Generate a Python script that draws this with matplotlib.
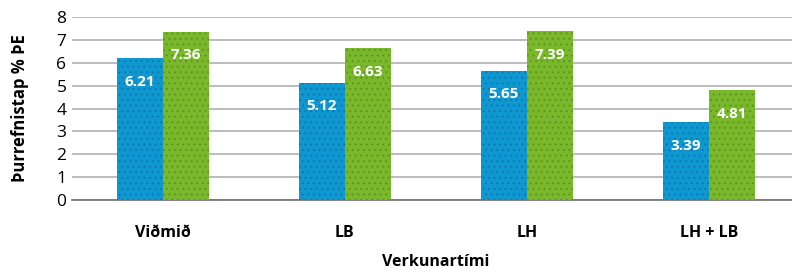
import numpy as np
import matplotlib.pyplot as plt

# values
categories = ['Viðmið', 'LB', 'LH', 'LH + LB']
series_a = [6.21, 5.12, 5.65, 3.39]
series_b = [7.36, 6.63, 7.39, 4.81]
yticks = [0, 1, 2, 3, 4, 5, 6, 7, 8]

plt.rcParams['font.family'] = ['Open Sans', 'DejaVu Sans']
plt.rcParams['hatch.linewidth'] = 0.8

fig = plt.figure(figsize=(7.92, 2.73), dpi=100)
ax = fig.add_axes([72 / 792, 0.267, 1 - 72 / 792 + 0.01, 0.938 - 0.267])

x = np.arange(len(categories))
w = 0.255
blue = '#0f97d1'
green = '#78b82a'

bars_a = ax.bar(x - w / 2, series_a, w, color=blue, hatch='...',
                edgecolor=(0, 0, 0, 0.15), linewidth=0, zorder=3)
bars_b = ax.bar(x + w / 2, series_b, w, color=green, hatch='...',
                edgecolor=(0, 0, 0, 0.15), linewidth=0, zorder=3)

for bars, vals in [(bars_a, series_a), (bars_b, series_b)]:
    for b, v in zip(bars, vals):
        ax.annotate(f'{v:.2f}', (b.get_x() + b.get_width() / 2, v),
                    xytext=(0, -17), textcoords='offset points',
                    ha='center', va='center', color='white',
                    fontsize=11, fontweight='bold', zorder=4)

ax.set_xlim(-0.5, 3.5)
ax.set_ylim(0, 8)
ax.set_yticks(yticks)
ax.set_xticks(x)
ax.set_xticklabels(categories, fontsize=11.5, fontweight='bold')
ax.tick_params(axis='x', length=0, pad=18)
ax.tick_params(axis='y', length=0, labelsize=12.5, pad=4)

ax.grid(axis='y', color='#b0b0b0', linewidth=1.2, zorder=0)
for s in ['top', 'right', 'left']:
    ax.spines[s].set_visible(False)
ax.spines['bottom'].set_color('#707070')
ax.spines['bottom'].set_linewidth(1.2)

ax.set_ylabel('Þurrefnistap % ÞE', fontsize=12, fontweight='bold', labelpad=20)
ax.set_xlabel('Verkunartími', fontsize=11.5, fontweight='bold', labelpad=9)

fig.savefig('out.png', dpi=100)
